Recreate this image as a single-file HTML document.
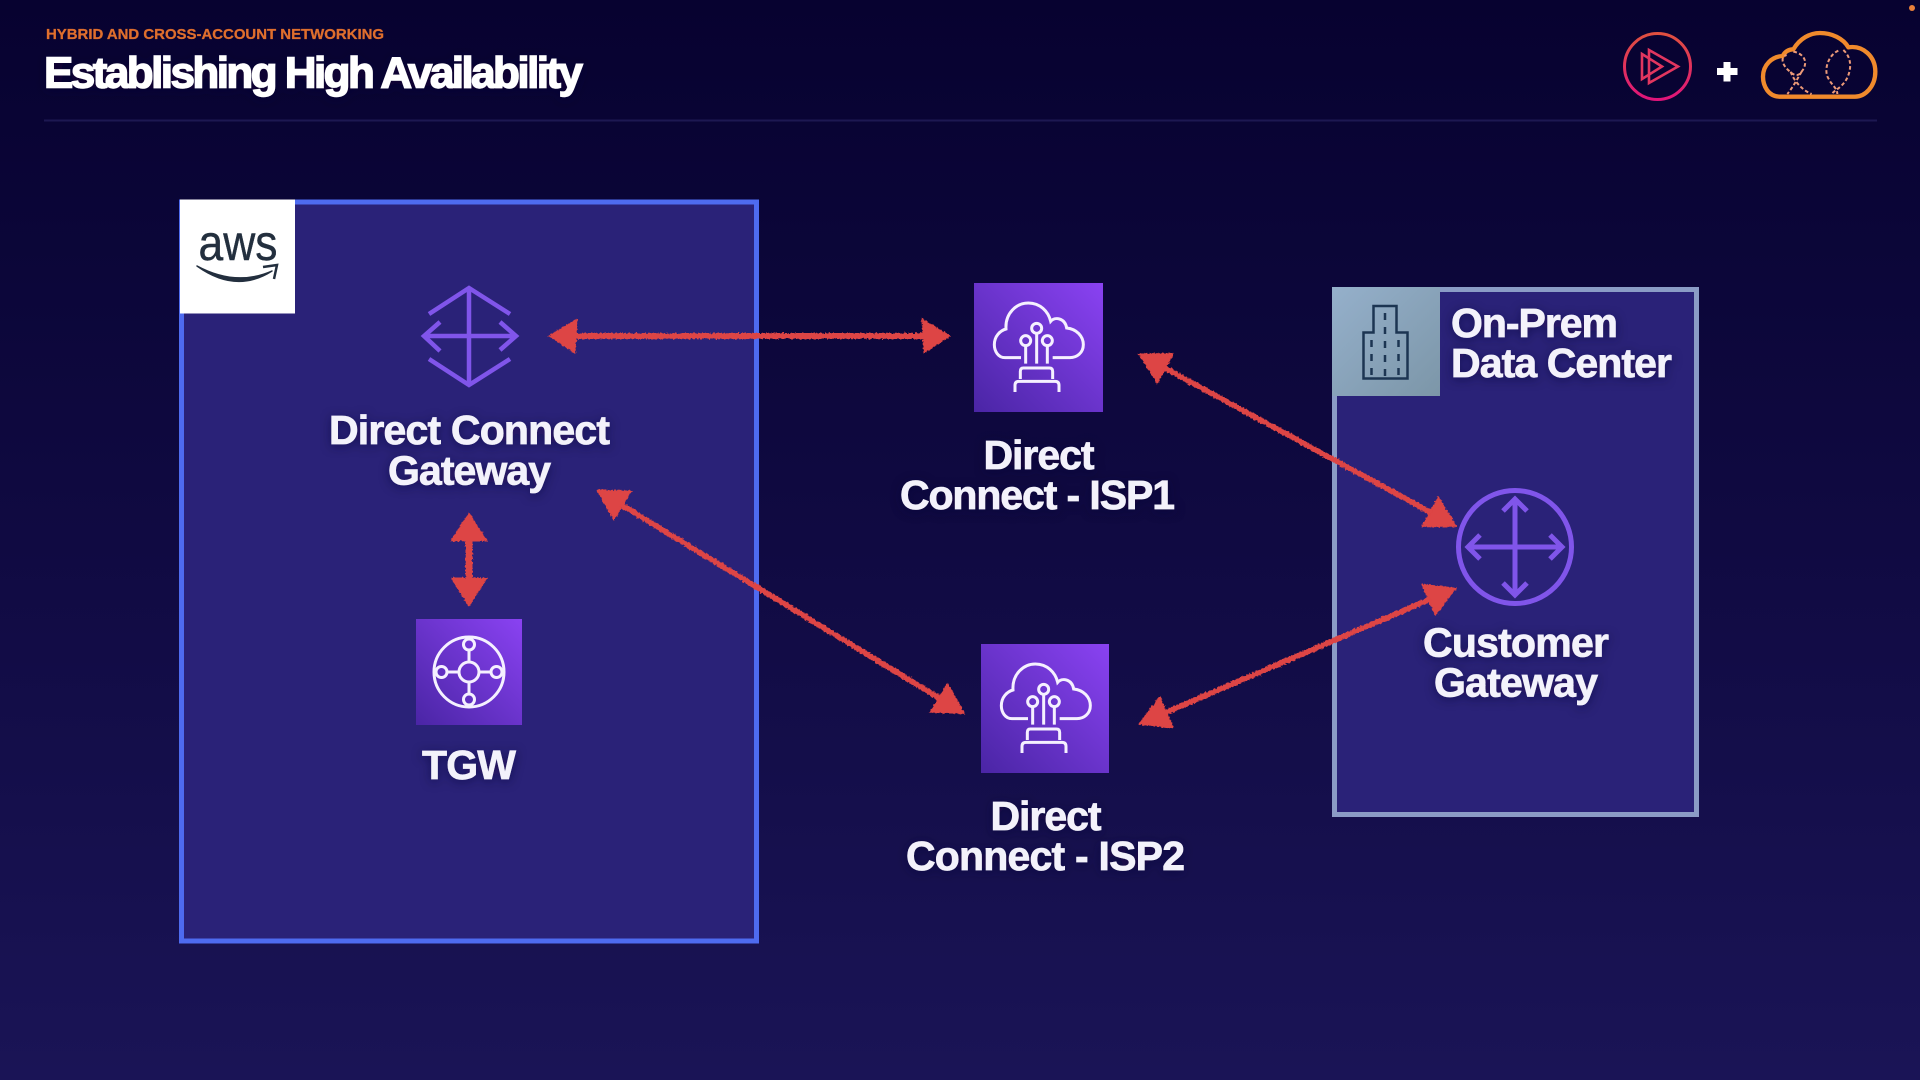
<!DOCTYPE html>
<html lang="en"><head><meta charset="utf-8"><title>Establishing High Availability</title>
<style>
html,body{margin:0;padding:0;background:#0d0840;width:1920px;height:1080px;overflow:hidden}
svg{display:block}
text{font-family:"Liberation Sans",sans-serif;font-weight:700;fill:#f3f2fb}
.lb{font-size:41px;text-anchor:middle;stroke:#f3f2fb;stroke-width:.7;filter:url(#glow)}
</style></head><body>
<svg xmlns="http://www.w3.org/2000/svg" width="1920" height="1080" viewBox="0 0 1920 1080">
<defs>
<linearGradient id="bg" x1="0" y1="0" x2="0" y2="1"><stop offset="0" stop-color="#070230"/><stop offset=".5" stop-color="#100a42"/><stop offset="1" stop-color="#1a1456"/></linearGradient>
<linearGradient id="sq" x1="0" y1="1" x2="1" y2="0"><stop offset="0" stop-color="#4a25a5"/><stop offset="1" stop-color="#8a42f2"/></linearGradient>
<linearGradient id="pl" x1="0" y1="0" x2="0" y2="1"><stop offset="0" stop-color="#e0503f"/><stop offset="1" stop-color="#e0147a"/></linearGradient>
<linearGradient id="dc" x1="0" y1="0" x2="1" y2="1"><stop offset="0" stop-color="#95b0cb"/><stop offset="1" stop-color="#7c96a8"/></linearGradient>
<filter id="rough" x="0" y="0" width="1920" height="1080" filterUnits="userSpaceOnUse"><feTurbulence type="fractalNoise" baseFrequency=".45" numOctaves="2" seed="4"/><feDisplacementMap in="SourceGraphic" scale="3.5" xChannelSelector="R" yChannelSelector="G"/></filter>
<filter id="glow" x="-20%" y="-40%" width="140%" height="180%"><feDropShadow dx="0" dy="2" stdDeviation="5" flood-color="#0a0635" flood-opacity=".55"/></filter>
</defs>
<rect width="1920" height="1080" fill="url(#bg)"/>

<!-- header -->
<text x="46" y="39" font-size="15" textLength="338" lengthAdjust="spacingAndGlyphs" style="fill:#df6e2d;stroke:#df6e2d;stroke-width:.3">HYBRID AND CROSS-ACCOUNT NETWORKING</text>
<text x="44" y="87.500" font-size="44" textLength="539" lengthAdjust="spacing" style="fill:#fff;stroke:#fff;stroke-width:1.400" filter="url(#glow)">Establishing High Availability</text>
<rect x="44" y="119.500" width="1833" height="2" fill="#1d1852"/>
<circle cx="1912" cy="8" r="3" fill="#e8803a"/>

<!-- play logo -->
<circle cx="1657.500" cy="66.500" r="33" fill="none" stroke="url(#pl)" stroke-width="3"/>
<path d="M1649 50 1678 66.500 1649 83ZM1642 54 1662 66.500 1642 79Z" fill="none" stroke="#e2365f" stroke-width="2.600"/>
<path d="M1723.500 62h7v6h7v7h-7v6.500h-7v-6.500h-6.500v-7h6.500z" fill="#fff"/>
<!-- cloud logo -->
<g transform="translate(1580,0) scale(.33333)" fill="none">
<path d="M600 290C565 290 549 258 549 230C549 195 575 170 608 168C615 155 625 148 640 148C660 115 690 99 720 99C755 99 790 115 805 142C850 135 886 170 886 215C886 260 855 290 825 290Z" stroke="#f08a2c" stroke-width="13" stroke-linejoin="round"/>
<path d="M775 152C745 165 730 210 745 235C755 255 772 265 772 282M790 150C818 175 815 215 795 245C780 265 765 270 755 282M640 155C670 160 688 185 665 215C655 232 640 225 630 215C605 195 600 170 620 165M632 215C640 240 665 270 695 282M665 215C650 240 640 260 622 282" stroke="#ec9a78" stroke-width="6" stroke-dasharray="11 7"/>
</g>

<!-- AWS box -->
<rect x="181.500" y="202" width="575" height="739" fill="#2a2278" stroke="#4e6bf0" stroke-width="5"/>
<rect x="180" y="199.500" width="115" height="114" fill="#fff"/>
<text x="198.500" y="260" font-size="50" textLength="79" lengthAdjust="spacingAndGlyphs" style="fill:#232f3e;font-weight:400;stroke:#232f3e;stroke-width:.4">aws</text>
<path d="M197 266Q236 294 272 271Q236 287 197 266Z" fill="#232f3e" stroke="#232f3e" stroke-width="1.500" stroke-linejoin="round"/>
<path d="M263 267 277 265 274 279" fill="none" stroke="#232f3e" stroke-width="2.500"/>

<!-- On-prem box -->
<rect x="1334.500" y="289.500" width="362" height="525" fill="#2a2278" stroke="#8b9cc6" stroke-width="5"/>
<rect x="1332" y="287" width="108" height="109" fill="url(#dc)"/>
<g fill="none" stroke="#1c3552" stroke-width="2.500">
<path d="M1373.500 332.500V306H1396.500V332.500H1407.500V378.500H1363.500V332.500Z"/>
<path d="M1385 313V378M1371.500 340V378M1398.500 340V378" stroke-dasharray="7 7"/>
</g>

<!-- DX gateway icon -->
<g fill="none" stroke="#8055ea" stroke-width="4.500">
<path d="M429 314 469 288 510 314M429 359 469 385 510 359M469 288V385M424 336H516M440 322 424 336 440 351M500 322 516 336 500 350"/>
</g>

<!-- TGW -->
<rect x="416" y="619" width="106" height="106" fill="url(#sq)"/>
<g fill="none" stroke="#f5f0ff" stroke-width="3">
<circle cx="469" cy="672" r="35"/><circle cx="469" cy="672" r="10"/>
<circle cx="469" cy="644.500" r="5.500"/><circle cx="469" cy="699.500" r="5.500"/><circle cx="441.500" cy="672" r="5.500"/><circle cx="496.500" cy="672" r="5.500"/>
<path d="M469 650V662M469 682V694M447 672H459M479 672H491"/>
</g>

<!-- ISP1 -->
<g transform="translate(974,283)"><rect width="129" height="129" fill="url(#sq)"/>
<g transform="scale(.33333) translate(-42,-40)" fill="none" stroke="#f5f0ff" stroke-width="9">
<path d="M183 264H135C115 264 103 245 103 225C103 200 120 183 138 178C135 130 170 100 205 100C240 100 265 125 272 155C285 140 315 145 320 175C350 178 370 200 370 225C370 250 350 264 330 264H278"/>
<circle cx="230" cy="176" r="15"/><circle cx="197" cy="213" r="15"/><circle cx="262" cy="213" r="15"/>
<path d="M230 191V282M197 228V282M262 228V282M181 328V305Q181 295 190 295H268Q278 295 278 305V328M165 367V347Q165 335 177 335H285Q297 335 297 347V367"/>
</g></g>
<!-- ISP2 -->
<g transform="translate(981,644)"><rect width="128" height="129" fill="url(#sq)"/>
<g transform="scale(.33333) translate(-42,-40)" fill="none" stroke="#f5f0ff" stroke-width="9">
<path d="M183 264H135C115 264 103 245 103 225C103 200 120 183 138 178C135 130 170 100 205 100C240 100 265 125 272 155C285 140 315 145 320 175C350 178 370 200 370 225C370 250 350 264 330 264H278"/>
<circle cx="230" cy="176" r="15"/><circle cx="197" cy="213" r="15"/><circle cx="262" cy="213" r="15"/>
<path d="M230 191V282M197 228V282M262 228V282M181 328V305Q181 295 190 295H268Q278 295 278 305V328M165 367V347Q165 335 177 335H285Q297 335 297 347V367"/>
</g></g>

<!-- Customer gateway icon -->
<g fill="none" stroke="#8055ea" stroke-width="5">
<circle cx="1515" cy="547" r="56.500"/>
<path d="M1515 499V595M1468 547H1562M1503 511 1515 499 1527 511M1503 583 1515 595 1527 583M1480 535 1468 547 1480 559M1550 535 1562 547 1550 559"/>
</g>

<!-- Red arrows -->
<g fill="#dd4444" stroke="#dd4444" filter="url(#rough)">
<g transform="translate(547,336)"><path d="M2 0 30 -17 28 17Z M403 0 375 -17 377 17Z" stroke-width="1"/><path d="M28 0H377" stroke-width="6" fill="none"/></g>
<g transform="translate(469,513) rotate(90)"><path d="M0 0 28 -18 28 18Z M93 0 65 -18 65 18Z" stroke-width="1"/><path d="M28 0H65" stroke-width="7" fill="none"/></g>
<g transform="translate(597,490) rotate(31.300)"><path d="M0 0 30 -17 30 17Z M430 0 400 -17 400 17Z" stroke-width="1"/><path d="M28 0H402" stroke-width="5.500" fill="none"/></g>
<g transform="translate(1139,354) rotate(28.500)"><path d="M0 0 30 -17 30 17Z M361 0 331 -17 331 17Z" stroke-width="1"/><path d="M28 0H333" stroke-width="5.500" fill="none"/></g>
<g transform="translate(1139,724) rotate(-23.200)"><path d="M0 0 30 -17 30 17Z M345 0 315 -17 315 17Z" stroke-width="1"/><path d="M28 0H317" stroke-width="5.500" fill="none"/></g>
</g>

<!-- Labels -->
<text class="lb" x="469.500" y="444" textLength="281" lengthAdjust="spacing">Direct Connect</text>
<text class="lb" x="469.500" y="484.500" textLength="163" lengthAdjust="spacing">Gateway</text>
<text class="lb" x="469" y="779" textLength="94" lengthAdjust="spacing">TGW</text>
<text class="lb" x="1039" y="469" textLength="111" lengthAdjust="spacing">Direct</text>
<text class="lb" x="1037.500" y="509" textLength="275" lengthAdjust="spacing">Connect - ISP1</text>
<text class="lb" x="1046" y="830" textLength="111" lengthAdjust="spacing">Direct</text>
<text class="lb" x="1045.500" y="870" textLength="279" lengthAdjust="spacing">Connect - ISP2</text>
<text class="lb" x="1516" y="656.500" textLength="186" lengthAdjust="spacing">Customer</text>
<text class="lb" x="1516" y="696.500" textLength="164" lengthAdjust="spacing">Gateway</text>
<text class="lb" x="1451" y="337" textLength="167" lengthAdjust="spacing" style="text-anchor:start">On-Prem</text>
<text class="lb" x="1451" y="377" textLength="221" lengthAdjust="spacing" style="text-anchor:start">Data Center</text>
</svg>
</body></html>
